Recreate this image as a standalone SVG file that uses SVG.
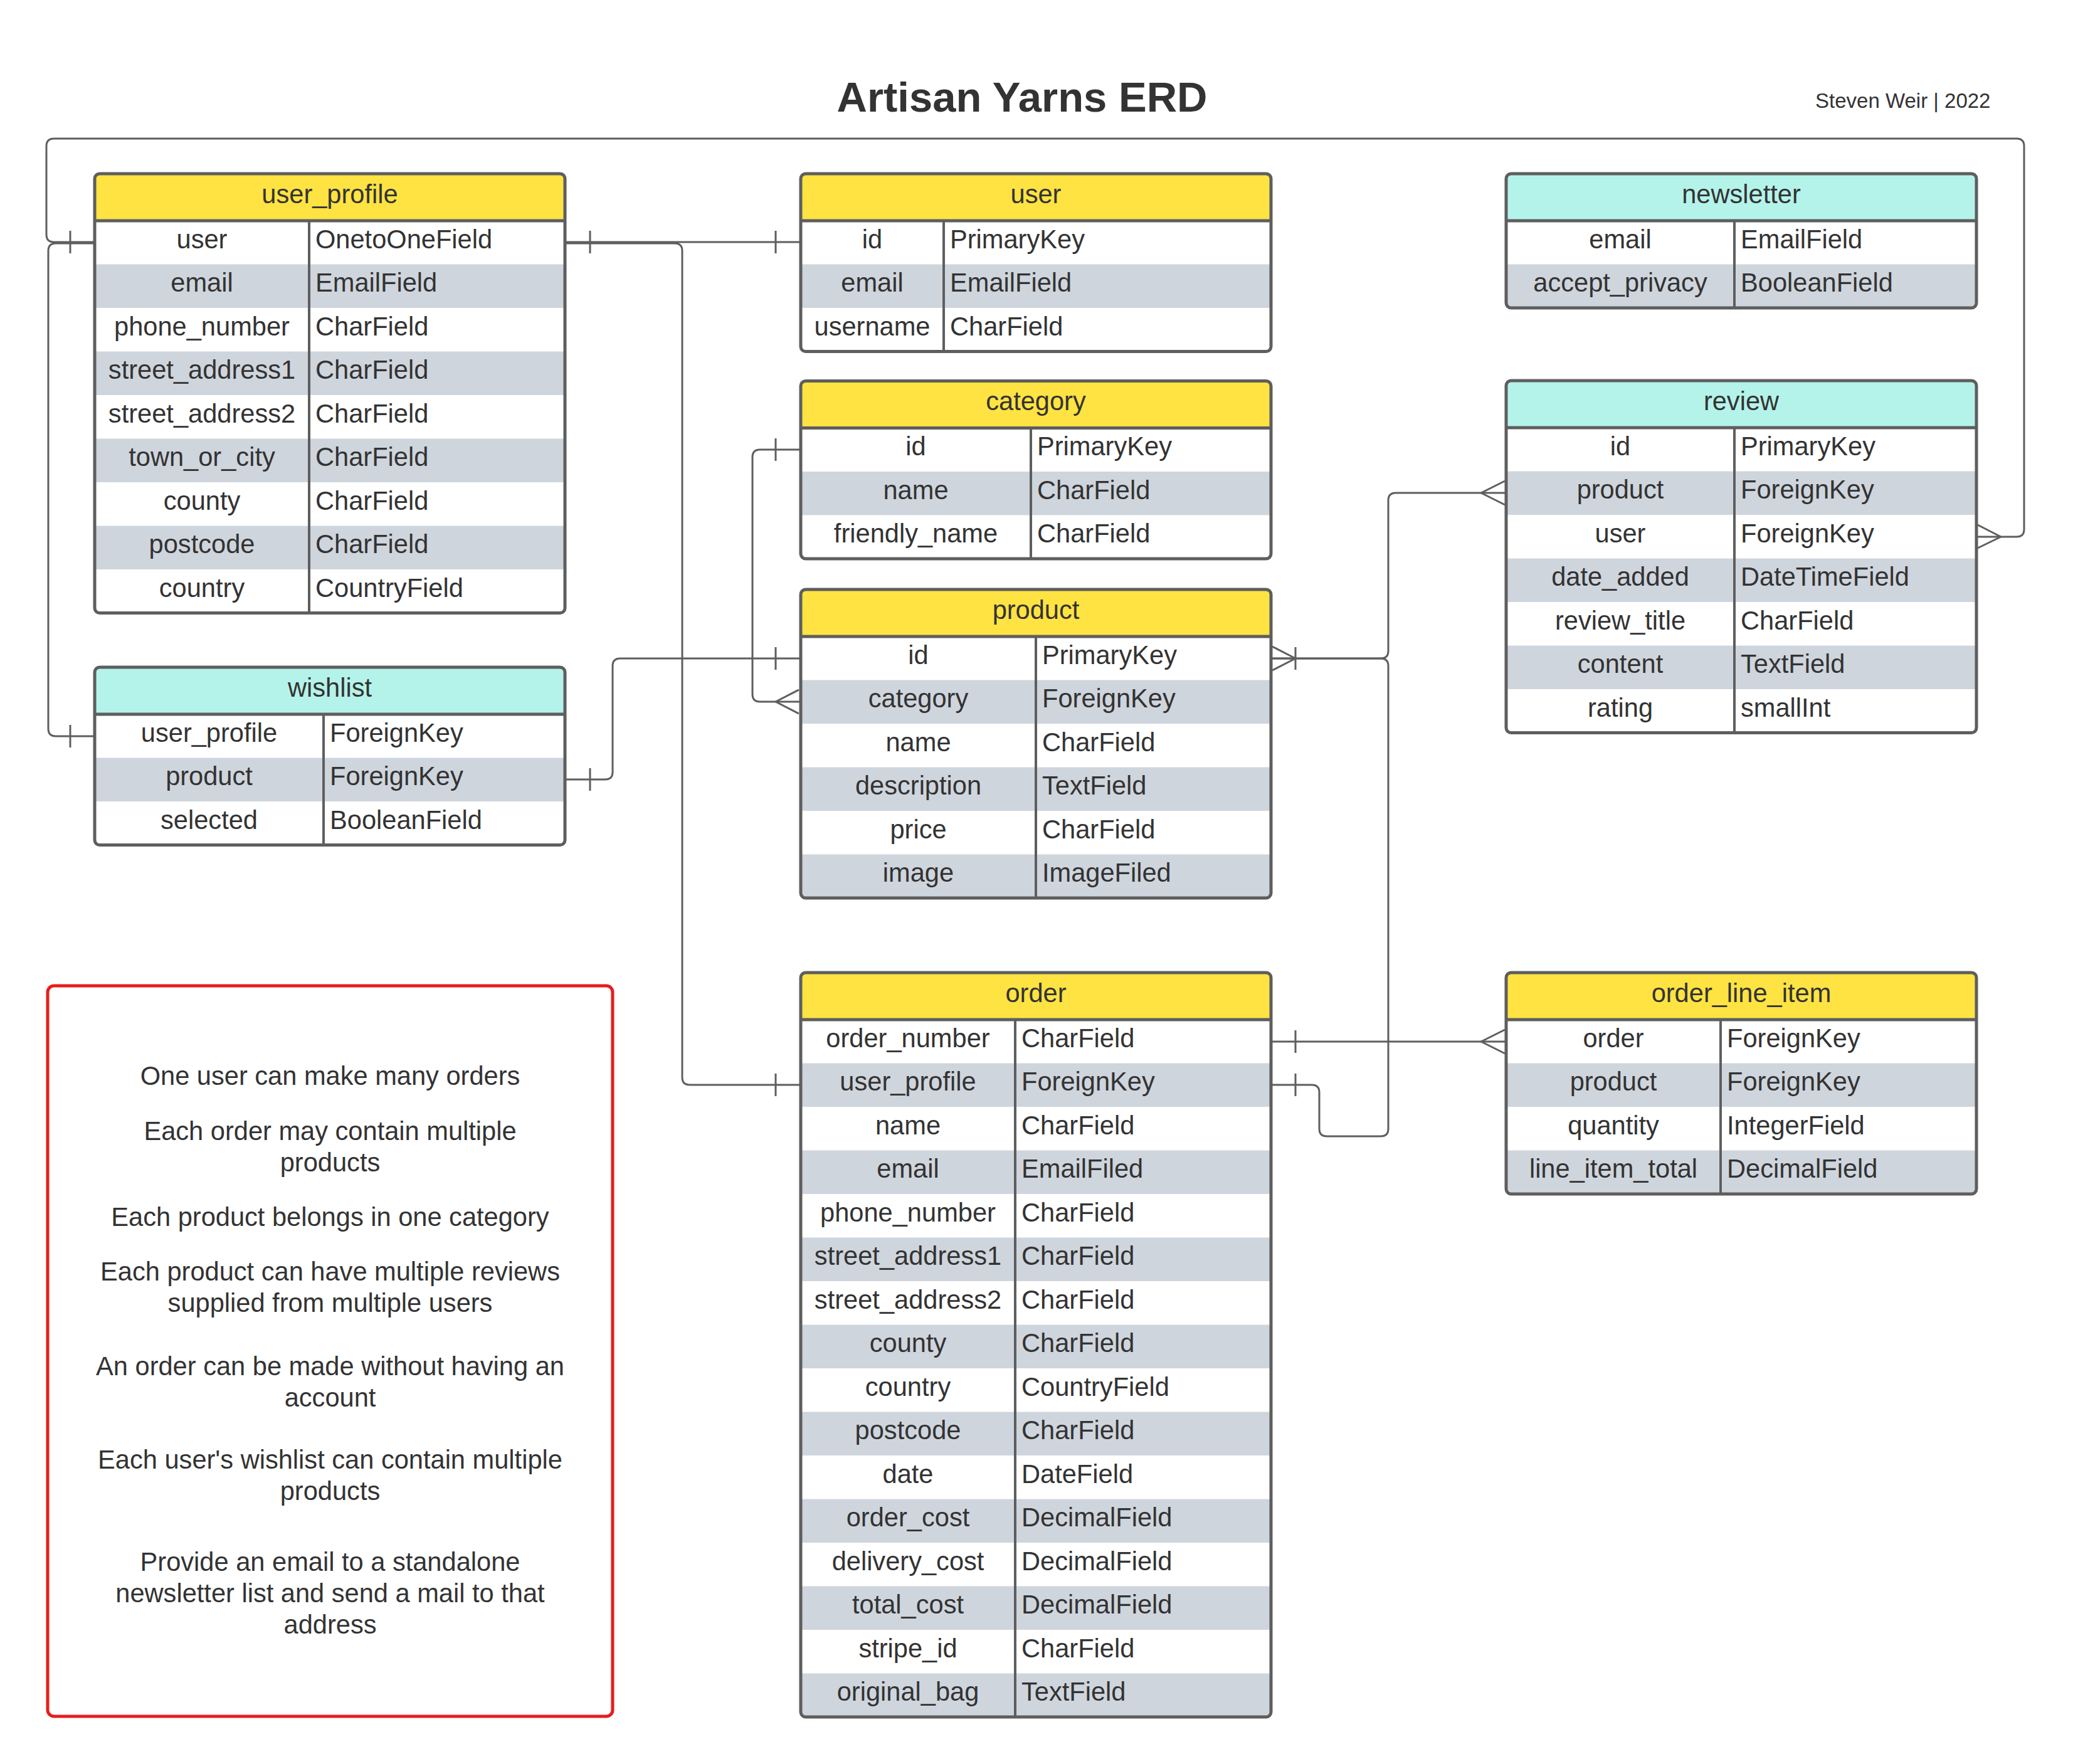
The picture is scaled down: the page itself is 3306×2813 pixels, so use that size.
<svg xmlns="http://www.w3.org/2000/svg" width="3306" height="2813" viewBox="0 0 3306 2813">
<style>
text{font-family:"Liberation Sans",Arial,sans-serif;fill:#333333}
.t{font-size:41.6px}
.c{text-anchor:middle}
.hy{fill:#FFE342}
.ht{fill:#B4F3EA}
.g{fill:#CFD5DD}
.bg{fill:#FFFFFF}
.o{fill:none;stroke:#5E5E5E;stroke-width:5}
.hl{stroke:#5E5E5E;stroke-width:5}
.dv{stroke:#5E5E5E;stroke-width:4}
.ln{fill:none;stroke:#5E5E5E;stroke-width:3;stroke-linejoin:round}
</style>
<defs>
<clipPath id="cp-up"><rect x="151" y="277" width="750" height="700.5" rx="8"/></clipPath>
<clipPath id="cp-user"><rect x="1277" y="277" width="750" height="283.5" rx="8"/></clipPath>
<clipPath id="cp-news"><rect x="2402" y="277" width="750" height="214" rx="8"/></clipPath>
<clipPath id="cp-cat"><rect x="1277" y="607.5" width="750" height="283.5" rx="8"/></clipPath>
<clipPath id="cp-rev"><rect x="2402" y="607" width="750" height="561.5" rx="8"/></clipPath>
<clipPath id="cp-prod"><rect x="1277" y="940" width="750" height="492" rx="8"/></clipPath>
<clipPath id="cp-wish"><rect x="151" y="1064" width="750" height="283.5" rx="8"/></clipPath>
<clipPath id="cp-ord"><rect x="1277" y="1551" width="750" height="1187" rx="8"/></clipPath>
<clipPath id="cp-oli"><rect x="2402" y="1551" width="750" height="353" rx="8"/></clipPath>
</defs>
<rect width="3306" height="2813" fill="#FFFFFF"/>

<text x="1630" y="178" class="c" style="font-size:67px;font-weight:bold">Artisan Yarns ERD</text>
<text x="2895" y="171.5" style="font-size:33px">Steven Weir | 2022</text>

<g id="connectors">
<path class="ln" d="M901,386 H1277"/>
<path class="ln" d="M941,368 V404 M1237,368 V404"/>
<path class="ln" d="M901,388 H1076 Q1088,388 1088,400 V1718 Q1088,1730 1100,1730 H1277"/>
<path class="ln" d="M1237,1712 V1748"/>
<path class="ln" d="M151,386 H86 Q74,386 74,374 V233 Q74,221 86,221 H3216 Q3228,221 3228,233 V844 Q3228,856 3216,856 H3152"/>
<path class="ln" d="M112,368 V404"/>
<path class="ln" d="M3154,837 L3191,856 L3154,874"/>
<path class="ln" d="M151,388 H89 Q77,388 77,400 V1162 Q77,1174 89,1174 H151"/>
<path class="ln" d="M112,1156 V1192"/>
<path class="ln" d="M901,1243 H965 Q977,1243 977,1231 V1062 Q977,1050 989,1050 H1277"/>
<path class="ln" d="M941,1225 V1261 M1237,1032 V1068"/>
<path class="ln" d="M1277,717 H1212 Q1200,717 1200,729 V1107 Q1200,1119 1212,1119 H1277"/>
<path class="ln" d="M1237,699 V735"/>
<path class="ln" d="M1274,1100 L1237,1119 L1274,1138"/>
<path class="ln" d="M2027,1050 H2202 Q2214,1050 2214,1038 V798 Q2214,786 2226,786 H2402"/>
<path class="ln" d="M2029,1031 L2066,1050 L2029,1069 M2066,1032 V1068"/>
<path class="ln" d="M2400,767 L2362,786 L2400,805"/>
<path class="ln" d="M2027,1050 H2202 Q2214,1050 2214,1062 V1800 Q2214,1812 2202,1812 H2116 Q2104,1812 2104,1800 V1742 Q2104,1730 2092,1730 H2027"/>
<path class="ln" d="M2066,1712 V1748"/>
<path class="ln" d="M2027,1661 H2402"/>
<path class="ln" d="M2066,1643 V1679"/>
<path class="ln" d="M2400,1642 L2362,1661 L2400,1680"/>
</g>

<g id="user_profile">
<g clip-path="url(#cp-up)">
<rect class="bg" x="151" y="277" width="750" height="700.5"/>
<rect class="hy" x="151" y="277" width="750" height="75"/>
<rect class="g" x="151" y="421.5" width="750" height="69.5"/>
<rect class="g" x="151" y="560.5" width="750" height="69.5"/>
<rect class="g" x="151" y="699.5" width="750" height="69.5"/>
<rect class="g" x="151" y="838.5" width="750" height="69.5"/>
</g>
<line class="hl" x1="151" y1="352" x2="901" y2="352"/>
<line class="dv" x1="493" y1="352" x2="493" y2="977.5"/>
<rect class="o" x="151" y="277" width="750" height="700.5" rx="8"/>
<text class="t c" x="526" y="323.5">user_profile</text>
<text class="t c" x="322" y="395.75">user</text><text class="t" x="503" y="395.75">OnetoOneField</text>
<text class="t c" x="322" y="465.25">email</text><text class="t" x="503" y="465.25">EmailField</text>
<text class="t c" x="322" y="534.75">phone_number</text><text class="t" x="503" y="534.75">CharField</text>
<text class="t c" x="322" y="604.25">street_address1</text><text class="t" x="503" y="604.25">CharField</text>
<text class="t c" x="322" y="673.75">street_address2</text><text class="t" x="503" y="673.75">CharField</text>
<text class="t c" x="322" y="743.25">town_or_city</text><text class="t" x="503" y="743.25">CharField</text>
<text class="t c" x="322" y="812.75">county</text><text class="t" x="503" y="812.75">CharField</text>
<text class="t c" x="322" y="882.25">postcode</text><text class="t" x="503" y="882.25">CharField</text>
<text class="t c" x="322" y="951.75">country</text><text class="t" x="503" y="951.75">CountryField</text>
</g>

<g id="user">
<g clip-path="url(#cp-user)">
<rect class="bg" x="1277" y="277" width="750" height="283.5"/>
<rect class="hy" x="1277" y="277" width="750" height="75"/>
<rect class="g" x="1277" y="421.5" width="750" height="69.5"/>
</g>
<line class="hl" x1="1277" y1="352" x2="2027" y2="352"/>
<line class="dv" x1="1505" y1="352" x2="1505" y2="560.5"/>
<rect class="o" x="1277" y="277" width="750" height="283.5" rx="8"/>
<text class="t c" x="1652" y="323.5">user</text>
<text class="t c" x="1391" y="395.75">id</text><text class="t" x="1515" y="395.75">PrimaryKey</text>
<text class="t c" x="1391" y="465.25">email</text><text class="t" x="1515" y="465.25">EmailField</text>
<text class="t c" x="1391" y="534.75">username</text><text class="t" x="1515" y="534.75">CharField</text>
</g>

<g id="newsletter">
<g clip-path="url(#cp-news)">
<rect class="bg" x="2402" y="277" width="750" height="214"/>
<rect class="ht" x="2402" y="277" width="750" height="75"/>
<rect class="g" x="2402" y="421.5" width="750" height="69.5"/>
</g>
<line class="hl" x1="2402" y1="352" x2="3152" y2="352"/>
<line class="dv" x1="2766" y1="352" x2="2766" y2="491"/>
<rect class="o" x="2402" y="277" width="750" height="214" rx="8"/>
<text class="t c" x="2777" y="323.5">newsletter</text>
<text class="t c" x="2584" y="395.75">email</text><text class="t" x="2776" y="395.75">EmailField</text>
<text class="t c" x="2584" y="465.25">accept_privacy</text><text class="t" x="2776" y="465.25">BooleanField</text>
</g>

<g id="category">
<g clip-path="url(#cp-cat)">
<rect class="bg" x="1277" y="607.5" width="750" height="283.5"/>
<rect class="hy" x="1277" y="607.5" width="750" height="75"/>
<rect class="g" x="1277" y="752" width="750" height="69.5"/>
</g>
<line class="hl" x1="1277" y1="682.5" x2="2027" y2="682.5"/>
<line class="dv" x1="1644" y1="682.5" x2="1644" y2="891"/>
<rect class="o" x="1277" y="607.5" width="750" height="283.5" rx="8"/>
<text class="t c" x="1652" y="654">category</text>
<text class="t c" x="1460.5" y="726.25">id</text><text class="t" x="1654" y="726.25">PrimaryKey</text>
<text class="t c" x="1460.5" y="795.75">name</text><text class="t" x="1654" y="795.75">CharField</text>
<text class="t c" x="1460.5" y="865.25">friendly_name</text><text class="t" x="1654" y="865.25">CharField</text>
</g>

<g id="review">
<g clip-path="url(#cp-rev)">
<rect class="bg" x="2402" y="607" width="750" height="561.5"/>
<rect class="ht" x="2402" y="607" width="750" height="75"/>
<rect class="g" x="2402" y="751.5" width="750" height="69.5"/>
<rect class="g" x="2402" y="890.5" width="750" height="69.5"/>
<rect class="g" x="2402" y="1029.5" width="750" height="69.5"/>
</g>
<line class="hl" x1="2402" y1="682" x2="3152" y2="682"/>
<line class="dv" x1="2766" y1="682" x2="2766" y2="1168.5"/>
<rect class="o" x="2402" y="607" width="750" height="561.5" rx="8"/>
<text class="t c" x="2777" y="653.5">review</text>
<text class="t c" x="2584" y="725.75">id</text><text class="t" x="2776" y="725.75">PrimaryKey</text>
<text class="t c" x="2584" y="795.25">product</text><text class="t" x="2776" y="795.25">ForeignKey</text>
<text class="t c" x="2584" y="864.75">user</text><text class="t" x="2776" y="864.75">ForeignKey</text>
<text class="t c" x="2584" y="934.25">date_added</text><text class="t" x="2776" y="934.25">DateTimeField</text>
<text class="t c" x="2584" y="1003.75">review_title</text><text class="t" x="2776" y="1003.75">CharField</text>
<text class="t c" x="2584" y="1073.25">content</text><text class="t" x="2776" y="1073.25">TextField</text>
<text class="t c" x="2584" y="1142.75">rating</text><text class="t" x="2776" y="1142.75">smallInt</text>
</g>

<g id="product">
<g clip-path="url(#cp-prod)">
<rect class="bg" x="1277" y="940" width="750" height="492"/>
<rect class="hy" x="1277" y="940" width="750" height="75"/>
<rect class="g" x="1277" y="1084.5" width="750" height="69.5"/>
<rect class="g" x="1277" y="1223.5" width="750" height="69.5"/>
<rect class="g" x="1277" y="1362.5" width="750" height="69.5"/>
</g>
<line class="hl" x1="1277" y1="1015" x2="2027" y2="1015"/>
<line class="dv" x1="1652" y1="1015" x2="1652" y2="1432"/>
<rect class="o" x="1277" y="940" width="750" height="492" rx="8"/>
<text class="t c" x="1652" y="986.5">product</text>
<text class="t c" x="1464.5" y="1058.75">id</text><text class="t" x="1662" y="1058.75">PrimaryKey</text>
<text class="t c" x="1464.5" y="1128.25">category</text><text class="t" x="1662" y="1128.25">ForeignKey</text>
<text class="t c" x="1464.5" y="1197.75">name</text><text class="t" x="1662" y="1197.75">CharField</text>
<text class="t c" x="1464.5" y="1267.25">description</text><text class="t" x="1662" y="1267.25">TextField</text>
<text class="t c" x="1464.5" y="1336.75">price</text><text class="t" x="1662" y="1336.75">CharField</text>
<text class="t c" x="1464.5" y="1406.25">image</text><text class="t" x="1662" y="1406.25">ImageFiled</text>
</g>

<g id="wishlist">
<g clip-path="url(#cp-wish)">
<rect class="bg" x="151" y="1064" width="750" height="283.5"/>
<rect class="ht" x="151" y="1064" width="750" height="75"/>
<rect class="g" x="151" y="1208.5" width="750" height="69.5"/>
</g>
<line class="hl" x1="151" y1="1139" x2="901" y2="1139"/>
<line class="dv" x1="516" y1="1139" x2="516" y2="1347.5"/>
<rect class="o" x="151" y="1064" width="750" height="283.5" rx="8"/>
<text class="t c" x="526" y="1110.5">wishlist</text>
<text class="t c" x="333.5" y="1182.75">user_profile</text><text class="t" x="526" y="1182.75">ForeignKey</text>
<text class="t c" x="333.5" y="1252.25">product</text><text class="t" x="526" y="1252.25">ForeignKey</text>
<text class="t c" x="333.5" y="1321.75">selected</text><text class="t" x="526" y="1321.75">BooleanField</text>
</g>

<g id="order">
<g clip-path="url(#cp-ord)">
<rect class="bg" x="1277" y="1551" width="750" height="1187"/>
<rect class="hy" x="1277" y="1551" width="750" height="75"/>
<rect class="g" x="1277" y="1695.5" width="750" height="69.5"/>
<rect class="g" x="1277" y="1834.5" width="750" height="69.5"/>
<rect class="g" x="1277" y="1973.5" width="750" height="69.5"/>
<rect class="g" x="1277" y="2112.5" width="750" height="69.5"/>
<rect class="g" x="1277" y="2251.5" width="750" height="69.5"/>
<rect class="g" x="1277" y="2390.5" width="750" height="69.5"/>
<rect class="g" x="1277" y="2529.5" width="750" height="69.5"/>
<rect class="g" x="1277" y="2668.5" width="750" height="69.5"/>
</g>
<line class="hl" x1="1277" y1="1626" x2="2027" y2="1626"/>
<line class="dv" x1="1619" y1="1626" x2="1619" y2="2738"/>
<rect class="o" x="1277" y="1551" width="750" height="1187" rx="8"/>
<text class="t c" x="1652" y="1597.5">order</text>
<text class="t c" x="1448" y="1669.75">order_number</text><text class="t" x="1629" y="1669.75">CharField</text>
<text class="t c" x="1448" y="1739.25">user_profile</text><text class="t" x="1629" y="1739.25">ForeignKey</text>
<text class="t c" x="1448" y="1808.75">name</text><text class="t" x="1629" y="1808.75">CharField</text>
<text class="t c" x="1448" y="1878.25">email</text><text class="t" x="1629" y="1878.25">EmailFiled</text>
<text class="t c" x="1448" y="1947.75">phone_number</text><text class="t" x="1629" y="1947.75">CharField</text>
<text class="t c" x="1448" y="2017.25">street_address1</text><text class="t" x="1629" y="2017.25">CharField</text>
<text class="t c" x="1448" y="2086.75">street_address2</text><text class="t" x="1629" y="2086.75">CharField</text>
<text class="t c" x="1448" y="2156.25">county</text><text class="t" x="1629" y="2156.25">CharField</text>
<text class="t c" x="1448" y="2225.75">country</text><text class="t" x="1629" y="2225.75">CountryField</text>
<text class="t c" x="1448" y="2295.25">postcode</text><text class="t" x="1629" y="2295.25">CharField</text>
<text class="t c" x="1448" y="2364.75">date</text><text class="t" x="1629" y="2364.75">DateField</text>
<text class="t c" x="1448" y="2434.25">order_cost</text><text class="t" x="1629" y="2434.25">DecimalField</text>
<text class="t c" x="1448" y="2503.75">delivery_cost</text><text class="t" x="1629" y="2503.75">DecimalField</text>
<text class="t c" x="1448" y="2573.25">total_cost</text><text class="t" x="1629" y="2573.25">DecimalField</text>
<text class="t c" x="1448" y="2642.75">stripe_id</text><text class="t" x="1629" y="2642.75">CharField</text>
<text class="t c" x="1448" y="2712.25">original_bag</text><text class="t" x="1629" y="2712.25">TextField</text>
</g>

<g id="order_line_item">
<g clip-path="url(#cp-oli)">
<rect class="bg" x="2402" y="1551" width="750" height="353"/>
<rect class="hy" x="2402" y="1551" width="750" height="75"/>
<rect class="g" x="2402" y="1695.5" width="750" height="69.5"/>
<rect class="g" x="2402" y="1834.5" width="750" height="69.5"/>
</g>
<line class="hl" x1="2402" y1="1626" x2="3152" y2="1626"/>
<line class="dv" x1="2744" y1="1626" x2="2744" y2="1904"/>
<rect class="o" x="2402" y="1551" width="750" height="353" rx="8"/>
<text class="t c" x="2777" y="1597.5">order_line_item</text>
<text class="t c" x="2573" y="1669.75">order</text><text class="t" x="2754" y="1669.75">ForeignKey</text>
<text class="t c" x="2573" y="1739.25">product</text><text class="t" x="2754" y="1739.25">ForeignKey</text>
<text class="t c" x="2573" y="1808.75">quantity</text><text class="t" x="2754" y="1808.75">IntegerField</text>
<text class="t c" x="2573" y="1878.25">line_item_total</text><text class="t" x="2754" y="1878.25">DecimalField</text>
</g>

<g id="notes">
<rect x="76" y="1572" width="901" height="1165" rx="10" fill="#FFFFFF" stroke="#E81C1C" stroke-width="5"/>
<text class="t c" x="526.5" y="1730">One user can make many orders</text>
<text class="t c" x="526.5" y="1818">Each order may contain multiple</text>
<text class="t c" x="526.5" y="1868">products</text>
<text class="t c" x="526.5" y="1955">Each product belongs in one category</text>
<text class="t c" x="526.5" y="2042">Each product can have multiple reviews</text>
<text class="t c" x="526.5" y="2092">supplied from multiple users</text>
<text class="t c" x="526.5" y="2193">An order can be made without having an</text>
<text class="t c" x="526.5" y="2243">account</text>
<text class="t c" x="526.5" y="2342">Each user's wishlist can contain multiple</text>
<text class="t c" x="526.5" y="2392">products</text>
<text class="t c" x="526.5" y="2505">Provide an email to a standalone</text>
<text class="t c" x="526.5" y="2555">newsletter list and send a mail to that</text>
<text class="t c" x="526.5" y="2605">address</text>
</g>
</svg>
